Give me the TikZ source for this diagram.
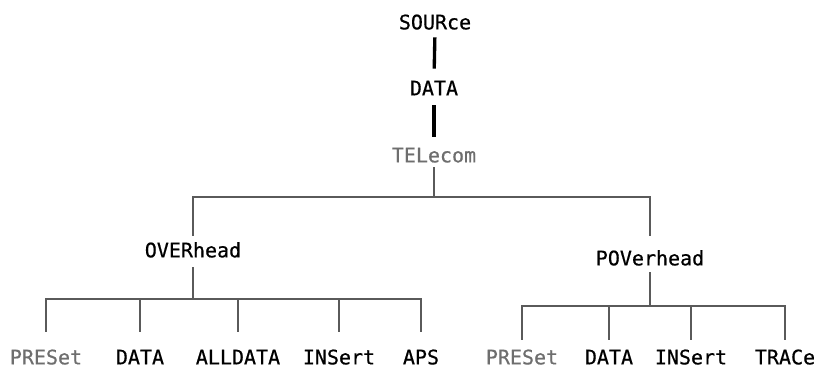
\documentclass[tikz,border=0pt]{standalone}
\usepackage{fontspec}
\setmonofont[FakeBold=0.6]{DejaVu Sans Mono}
\definecolor{lgray}{HTML}{5A5A5A}
\definecolor{tgray}{HTML}{6E6E6E}
\tikzset{
  lbl/.style={inner sep=0pt, text height=11pt, text depth=0pt, anchor=center,
    font=\ttfamily\fontsize{15}{18}\selectfont, text=black},
  glbl/.style={lbl, text=tgray},
  blk/.style={draw=black, line width=2.5pt},
  gry/.style={draw=lgray, line width=2.2pt, line cap=rect},
}
\begin{document}
\begin{tikzpicture}[x=0.75pt, y=-0.75pt]
\useasboundingbox (0,0) rectangle (818,372);
% top chain
\node[lbl]  (src) at (435,22)  {SOURce};
\node[lbl]  (dat) at (434,88)  {DATA};
\node[glbl] (tel) at (434,155) {TELecom};
\draw[blk, shorten <=5.8pt, shorten >=8.8pt] (src.south) -- (dat.north);
\draw[blk, shorten <=7.3pt, shorten >=8pt] (dat.south) -- (tel.north);
% second level
\node[lbl] (ovh) at (193,250) {OVERhead};
\node[lbl] (pov) at (650,258) {POVerhead};
\coordinate (tb) at (432,197);
\draw[gry, shorten <=3.5pt, line cap=butt] (tel.south) -- (tel.south |- tb);
\draw[gry] (ovh |- tb) -- (pov |- tb);
\draw[gry, shorten >=5.8pt] (ovh |- tb) -- (ovh.north);
\draw[gry, shorten >=11.8pt] (pov |- tb) -- (pov.north);
% left leaves
\coordinate (lb) at (193,299);
\node[glbl] (l1) at (46,357)  {PRESet};
\node[lbl]  (l2) at (140,357) {DATA};
\node[lbl]  (l3) at (238,357) {ALLDATA};
\node[lbl]  (l4) at (339,357) {INSert};
\node[lbl]  (l5) at (421,357) {APS};
\draw[gry, shorten <=7.3pt, line cap=butt] (ovh.south) -- (ovh.south |- lb);
\draw[gry] (l1 |- lb) -- (l5 |- lb);
\foreach \n in {l1,l2,l3,l4,l5}
  \draw[gry, shorten >=14.5pt] (\n |- lb) -- (\n.north);
% right leaves
\coordinate (rb) at (650,306);
\node[glbl] (r1) at (522,357) {PRESet};
\node[lbl]  (r2) at (609,357) {DATA};
\node[lbl]  (r3) at (691,357) {INSert};
\node[lbl]  (r4) at (785,357) {TRACe};
\draw[gry, shorten <=5pt, line cap=butt] (pov.south) -- (pov.south |- rb);
\draw[gry] (r1 |- rb) -- (r4 |- rb);
\foreach \n in {r1,r2,r3,r4}
  \draw[gry, shorten >=8.5pt] (\n |- rb) -- (\n.north);
\end{tikzpicture}
\end{document}
